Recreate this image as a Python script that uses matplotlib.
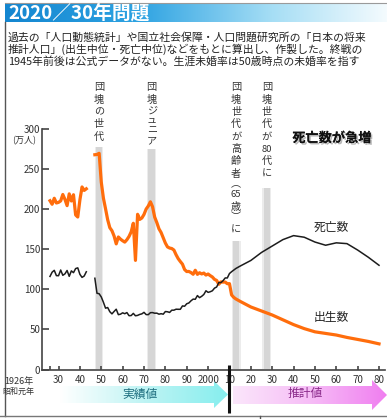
import matplotlib
matplotlib.use('Agg')
import matplotlib.pyplot as plt
import matplotlib.patheffects as pe
from matplotlib.patches import Polygon
from matplotlib.colors import LinearSegmentedColormap
import numpy as np

plt.rcParams['font.family'] = ['Noto Sans CJK JP', 'DejaVu Sans']

# ---------------- data ----------------
title = "2020／30年問題"
note_lines = [
    "過去の「人口動態統計」や国立社会保障・人口問題研究所の「日本の将来",
    "推計人口」(出生中位・死亡中位)などをもとに算出し、作製した。終戦の",
    "1945年前後は公式データがない。生涯未婚率は50歳時点の未婚率を指す",
]

years_prewar = list(range(1926, 1944))
births_prewar = [210.5, 206.1, 213.6, 207.7, 208.5, 210.3, 218.3, 212.2, 204.4,
                 219.1, 210.2, 218.0, 192.8, 190.2, 211.6, 227.7, 223.4, 225.4]
deaths_prewar = [116.1, 121.4, 123.7, 117.1, 117.0, 124.1, 117.5, 119.3, 123.5,
                 116.2, 123.0, 120.8, 125.9, 126.8, 118.7, 114.9, 116.6, 121.9]

years_postwar = list(range(1947, 2011))
births_postwar = [267.9, 268.2, 269.7, 233.8, 213.8, 200.5, 186.8, 176.9, 173.1, 166.5,
                  156.7, 165.3, 162.6, 160.6, 158.9, 161.9, 166.0, 171.7, 182.4, 136.1,
                  193.6, 187.2, 189.0, 193.4, 200.1, 203.9, 209.2, 203.0, 190.1, 183.3,
                  175.5, 170.9, 164.3, 157.7, 152.9, 151.5, 150.9, 149.0, 143.2, 138.3,
                  134.7, 131.4, 124.7, 122.2, 122.3, 120.9, 118.8, 123.8, 118.7, 120.7,
                  119.2, 120.3, 117.8, 119.1, 117.1, 115.4, 112.4, 111.1, 106.3, 109.3,
                  109.0, 109.1, 107.0, 107.1]
deaths_postwar = [113.8, 95.1, 94.5, 90.5, 83.9, 76.5, 77.3, 72.1, 69.4, 72.4,
                  75.2, 68.4, 69.0, 70.7, 69.6, 71.0, 67.1, 67.3, 70.0, 67.0,
                  67.5, 68.7, 69.4, 71.3, 68.5, 68.4, 70.9, 71.0, 70.2, 70.3,
                  69.0, 69.6, 69.0, 72.3, 72.0, 71.2, 74.0, 74.0, 75.2, 75.1,
                  75.1, 79.3, 78.9, 82.0, 83.0, 85.7, 87.8, 87.6, 92.2, 89.6,
                  91.3, 93.6, 98.2, 96.2, 97.0, 98.2, 101.5, 102.9, 108.4, 108.4,
                  110.8, 114.2, 114.2, 119.7]

years_proj = [2011, 2012, 2013, 2015, 2020, 2025, 2030, 2035, 2040, 2045,
              2050, 2055, 2060, 2065, 2070, 2075, 2080]
births_proj = [93, 90, 88, 85, 78, 73, 68, 62, 56, 51, 47, 45, 43, 40, 37.5, 35, 32]
deaths_proj = [122, 124, 126, 129, 136, 146, 154, 162, 167, 165, 159, 155, 158, 157,
               149, 140, 130]

yticks = [0, 50, 100, 150, 200, 250, 300]
xticks = [1926, 1930, 1940, 1950, 1960, 1970, 1980, 1990, 2000, 2010,
          2020, 2030, 2040, 2050, 2060, 2070, 2080]
xticklabels = ['', '30', '40', '50', '60', '70', '80', '90', '2000', '10',
               '20', '30', '40', '50', '60', '70', '80']

band_years = [(1947.5, 1950.2), (1972.0, 1975.2), (2011.6, 2014.6), (2026.0, 2029.0)]
band_labels = [["団", "塊", "の", "世", "代"],
               ["団", "塊", "ジ", "ュ", "ニ", "ア"],
               ["団", "塊", "世", "代", "が", "高", "齢", "者", "︵", "65", "歳", "︶", "に"],
               ["団", "塊", "世", "代", "が", "80", "代", "に"]]

# ---------------- figure ----------------
W, H = 387, 419
fig = plt.figure(figsize=(W / 100, H / 100), dpi=100)
fig.patch.set_facecolor('white')

ov = fig.add_axes([0, 0, 1, 1], zorder=0)
ov.set_xlim(0, W)
ov.set_ylim(H, 0)
ov.axis('off')

# title banner
cmap_banner = LinearSegmentedColormap.from_list(
    'banner', [(0, '#1486d0'), (0.35, '#2ea3e2'), (0.7, '#a6def5'), (1, '#f4fbfe')])
grad = np.linspace(0, 1, 256).reshape(1, -1)
ov.imshow(grad, extent=(5, W, 22, 3), cmap=cmap_banner, aspect='auto', zorder=1)
ov.plot([5, W], [3, 3], color='#9a9a9a', lw=0.8, zorder=2)
ov.text(8, 13, title, color='white', fontsize=13.5, fontweight='bold',
        va='center', ha='left', zorder=3)

for i, line in enumerate(note_lines):
    ov.text(8, 37 + i * 12, line, fontsize=7.8, color='#222222', va='center', ha='left')

# frame
ov.plot([5, 5], [22, 416], color='#555555', lw=1.0)
ov.plot([0, W], [416, 416], color='#777777', lw=1.0)
ov.plot([260, 260], [416, 419], color='#555555', lw=1.0)

def grad_arrow(x0, x1, xh, yb0, yb1, yh0, yh1, colors):
    ymid = (yb0 + yb1) / 2
    pts = [(x0, yb0), (xh, yb0), (xh, yh0), (x1, ymid), (xh, yh1), (xh, yb1), (x0, yb1)]
    poly = Polygon(pts, closed=True, facecolor='none', edgecolor='none')
    ov.add_patch(poly)
    cm = LinearSegmentedColormap.from_list('a', colors)
    im = ov.imshow(grad, extent=(x0, x1, yh1, yh0), cmap=cm, aspect='auto', zorder=1)
    im.set_clip_path(poly)

grad_arrow(60, 228, 214, 386, 403, 381, 408, ['#ffffff', '#bff4f4', '#86eeee'])
grad_arrow(233, 387, 372, 386, 404, 380, 410, ['#fbe6fb', '#f6bdf6', '#f07ef0'])
ov.text(140, 394.5, "実績値", fontsize=8.5, color='#1f6f80', ha='center', va='center')
ov.text(305, 393, "推計値", fontsize=8.5, color='#8a2a8a', ha='center', va='center')

ov.text(18.5, 381.5, "1926年", fontsize=6.5, color='#333333', ha='center', va='center')
ov.text(18.5, 391.5, "昭和元年", fontsize=5.8, color='#333333', ha='center', va='center')
ov.text(24, 141, "(万人)", fontsize=6.5, color='#333333', ha='center', va='center')

# ---------------- main axes ----------------
AX_L, AX_R, AX_T, AX_B = 42.3, 385, 129, 369.5
X0, X1 = 1922.4, 2082.8
ax = fig.add_axes([AX_L / W, (H - AX_B) / H, (AX_R - AX_L) / W, (AX_B - AX_T) / H], zorder=2)
ax.set_xlim(X0, X1)
ax.set_ylim(0, 300)
ax.patch.set_alpha(0)

band_tops = [277, 275, 160, 226]
for (bx0, bx1), top in zip(band_years, band_tops):
    ax.fill_between([bx0 - 0.6, bx1 + 0.6], 0, top, color='#ececec', lw=0, zorder=0)
    ax.fill_between([bx0, bx1], 0, top, color='#d6d6d6', lw=0, zorder=0)

orange = '#ff6d0c'
ax.plot(years_prewar, births_prewar, color=orange, lw=2.3, solid_joinstyle='round', zorder=3)
ax.plot(years_postwar + years_proj, births_postwar + births_proj, color=orange, lw=2.3,
        solid_joinstyle='round', zorder=3)
ax.plot(years_prewar, deaths_prewar, color='#1c1c1c', lw=1.1, zorder=4)
ax.plot(years_postwar + years_proj, deaths_postwar + deaths_proj, color='#1c1c1c', lw=1.1, zorder=4)

for s in ['top', 'right']:
    ax.spines[s].set_visible(False)
for s in ['left', 'bottom']:
    ax.spines[s].set_color('#444444')
    ax.spines[s].set_linewidth(1.2)

ax.set_yticks(yticks)
ax.set_yticklabels([str(v) for v in yticks])
ax.set_xticks(xticks)
ax.set_xticklabels(xticklabels)
ax.tick_params(axis='y', direction='in', length=5, width=1.2, color='#444444',
               labelsize=7, labelcolor='#333333', pad=1.5)
ax.tick_params(axis='x', direction='in', length=3, width=1.2, color='#444444',
               labelsize=7, labelcolor='#333333', pad=4)

ax.plot([2010, 2010], [6, -54], color='#111111', lw=2.2, clip_on=False, zorder=5,
        solid_capstyle='butt')

# vertical labels
small = {"ジ": 11, "ュ": 10, "ニ": 10, "ア": 10, "︵": 10, "︶": 10, "65": 11, "歳": 12}
for (bx0, bx1), chars in zip(band_years, band_labels):
    xc = (bx0 + bx1) / 2
    xpx = AX_L + (xc - X0) / (X1 - X0) * (AX_R - AX_L)
    ypx = 87
    for k, ch in enumerate(chars):
        if k > 0:
            ypx += small.get(ch, 12.4)
        fs = 6.8 if ch in ("65", "80") else 7.3
        ov.text(xpx, ypx, ch, fontsize=fs, color='#333333', ha='center', va='center',
                zorder=5)

ov.text(332, 138, "死亡数が急増", fontsize=9.5, fontweight='bold', color='#111111',
        ha='center', va='center',
        path_effects=[pe.withSimplePatchShadow(offset=(1.2, -1.2), shadow_rgbFace='#999999', alpha=0.7),
                      pe.Normal()])
ov.text(331, 227, "死亡数", fontsize=8.5, color='#222222', ha='center', va='center')
ov.text(331, 317, "出生数", fontsize=8.5, color='#222222', ha='center', va='center')

fig.savefig('out.png', dpi=100)
